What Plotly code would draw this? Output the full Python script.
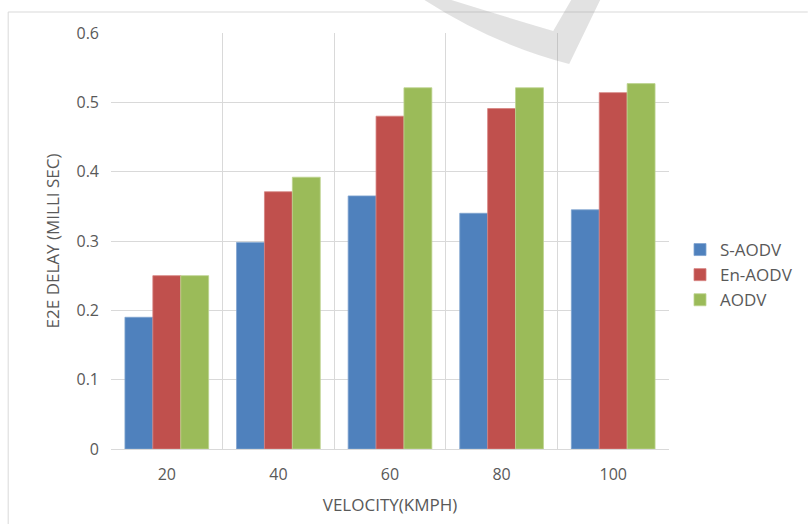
import plotly.graph_objects as go

categories = ["20", "40", "60", "80", "100"]
s_aodv = [0.19, 0.298, 0.365, 0.340, 0.345]
en_aodv = [0.25, 0.371, 0.480, 0.491, 0.514]
aodv = [0.25, 0.392, 0.521, 0.521, 0.527]
y_ticks = [0, 0.1, 0.2, 0.3, 0.4, 0.5, 0.6]
y_tick_labels = ["0", "0.1", "0.2", "0.3", "0.4", "0.5", "0.6"]

series = [
    ("S-AODV", s_aodv, "#4F81BD", "#7FA3CF"),
    ("En-AODV", en_aodv, "#C0504D", "#D6827F"),
    ("AODV", aodv, "#9BBB59", "#BCD38F"),
]

W, H = 809, 524
ML, MR, MT, MB = 111, 139, 33, 75
PW, PH = W - ML - MR, H - MT - MB


def px(x):
    return (x - ML) / PW


def py(y):
    return (H - MB - y) / PH


fig = go.Figure()
for name, vals, color, edge in series:
    fig.add_trace(go.Bar(
        x=categories, y=vals, name=name,
        marker=dict(color=color, line=dict(color=edge, width=0.8)),
    ))

font_family = "Open Sans, DejaVu Sans, sans-serif"
fig.update_layout(
    width=W, height=H,
    margin=dict(l=ML, r=MR, t=MT, b=MB),
    paper_bgcolor="white", plot_bgcolor="white",
    barmode="group", bargap=0.25, bargroupgap=0,
    font=dict(family=font_family, color="#595959", size=16),
    showlegend=True,
    legend=dict(
        x=px(680), y=py(275), xanchor="left", yanchor="middle",
        font=dict(size=17, color="#595959"),
        tracegroupgap=0, itemwidth=30,
        bgcolor="rgba(0,0,0,0)",
    ),
    xaxis=dict(
        type="category", tickson="boundaries",
        showgrid=True, gridcolor="#D9D9D9", gridwidth=1,
        showline=True, linecolor="#D9D9D9", linewidth=1,
        ticks="", ticklen=0,
        ticklabelstandoff=11,
        tickfont=dict(size=16, color="#595959"),
        title=dict(text="VELOCITY(KMPH)", font=dict(size=17, color="#595959"), standoff=14),
        zeroline=False,
    ),
    yaxis=dict(
        range=[0, 0.6], tickvals=y_ticks, ticktext=y_tick_labels,
        showgrid=True, gridcolor="#D9D9D9", gridwidth=1,
        zeroline=False, showline=False, ticks="",
        tickfont=dict(size=16, color="#595959"),
        ticklabelstandoff=11,
        title=dict(text="E2E DELAY (MILLI SEC)", font=dict(size=17, color="#595959"), standoff=12),
    ),
)

# outer chart border (light gray, as in the reference crop)
fig.add_shape(type="line", xref="paper", yref="paper",
              x0=px(8), x1=px(809), y0=py(12), y1=py(12),
              line=dict(color="#D9D9D9", width=1))
fig.add_shape(type="line", xref="paper", yref="paper",
              x0=px(8), x1=px(8), y0=py(12), y1=py(524),
              line=dict(color="#D9D9D9", width=1))

# faint gray watermark band at the top
pts = [("M", [(425, 0)]), ("Q", [(495, 45), (570, 64)]), ("L", [(601, 0)]),
       ("L", [(572, 0)]), ("L", [(554, 31)]), ("Q", [(500, 15), (452, 0)])]
path = " ".join(cmd + " " + " ".join(f"{px(a):.4f},{py(b):.4f}" for a, b in p) for cmd, p in pts) + " Z"
fig.add_shape(type="path", xref="paper", yref="paper", path=path,
              fillcolor="rgba(150,150,150,0.28)", line=dict(width=0), layer="above")

fig.write_html("out.html")
